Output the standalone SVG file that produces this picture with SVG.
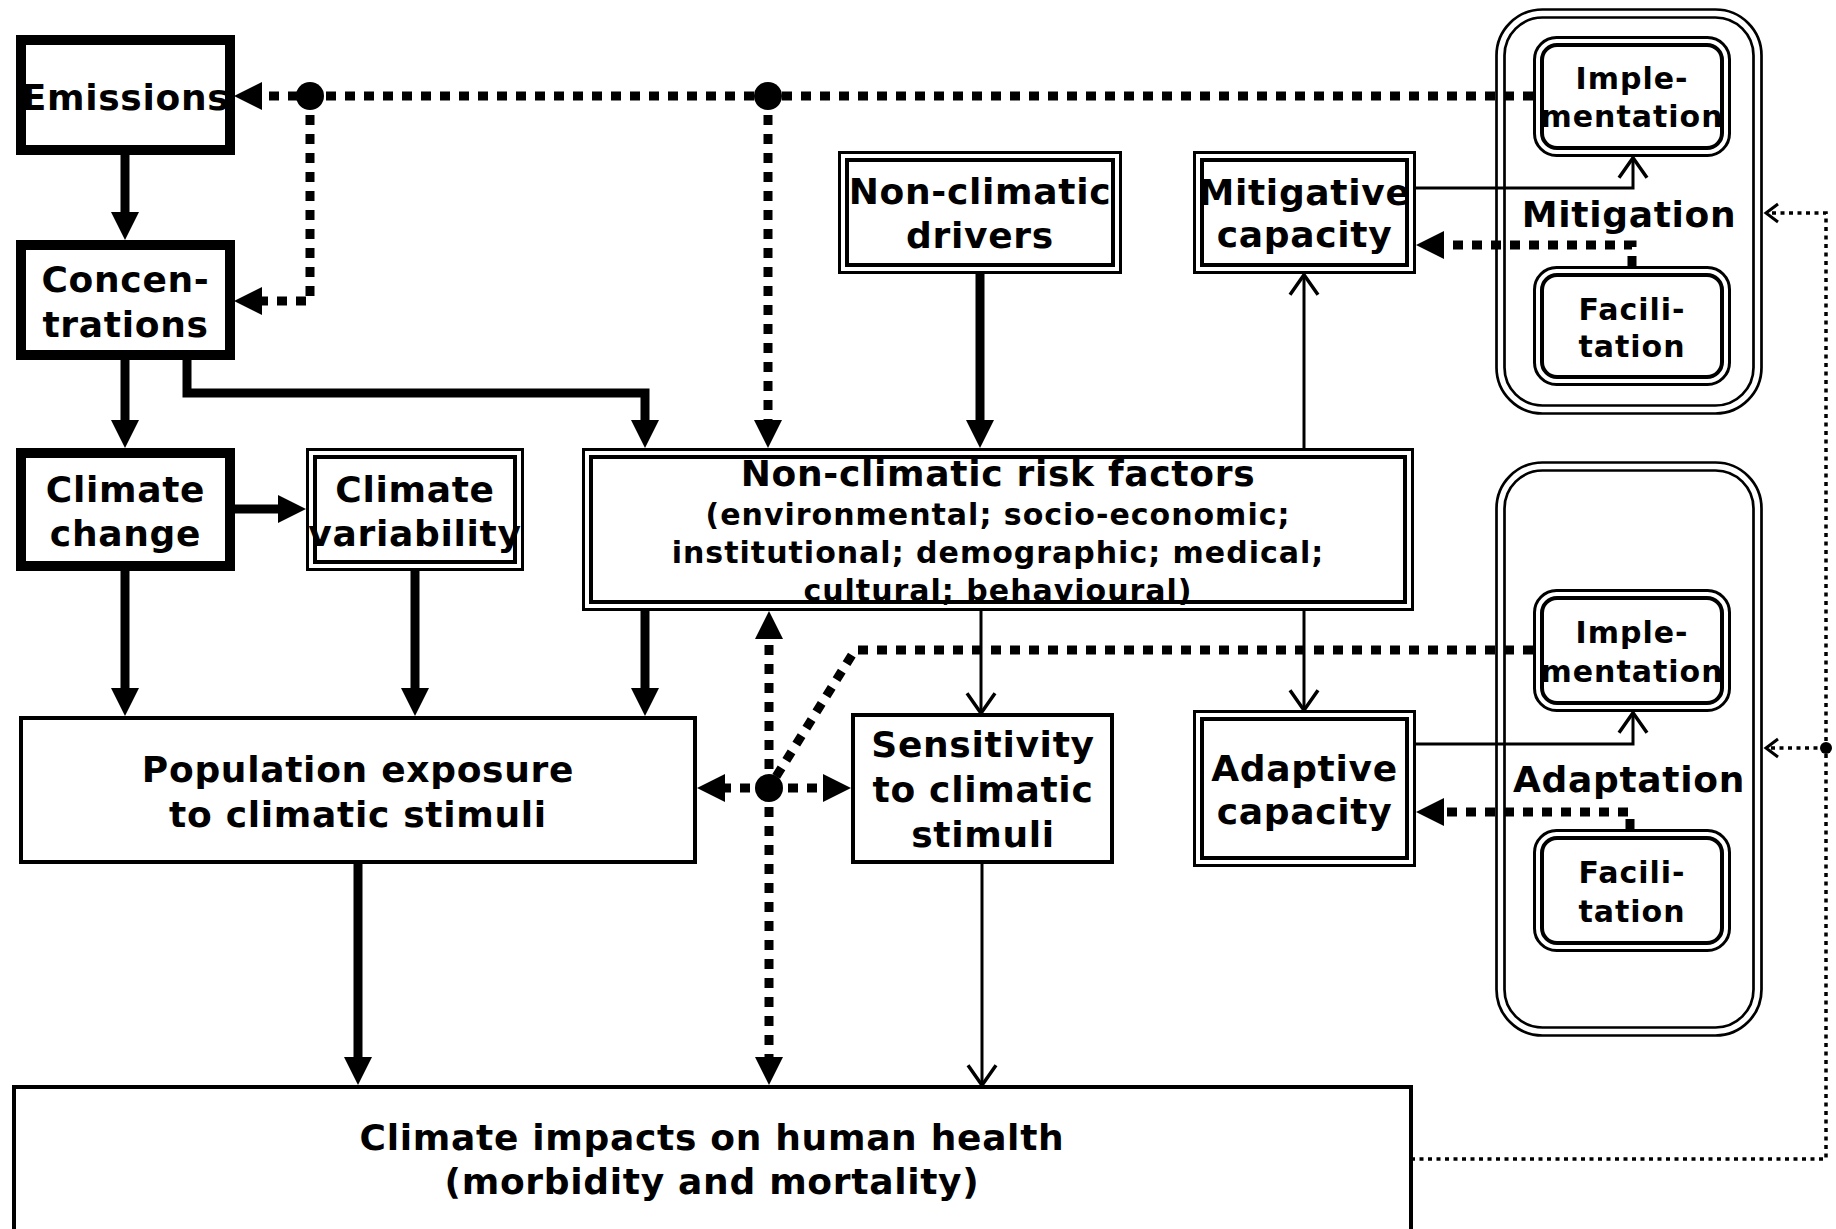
<svg xmlns="http://www.w3.org/2000/svg" width="1836" height="1229" viewBox="0 0 1836 1229">
  <defs>
    <style>
      .thick { fill: #fff; stroke: #000; stroke-width: 10; }
      .box { fill: #fff; stroke: #000; stroke-width: 4; }
      .dbl-o { fill: #fff; stroke: #000; stroke-width: 3; }
      .dbl-i { fill: none; stroke: #000; stroke-width: 4; }
      .ctr-o { fill: #fff; stroke: #000; stroke-width: 2.7; }
      .ctr-i { fill: none; stroke: #000; stroke-width: 2.7; }
      text { font-family: "DejaVu Sans", "Liberation Sans", sans-serif; font-weight: bold; fill: #000; text-anchor: middle; }
      .t36 { font-size: 36px; letter-spacing: 0.7px; }
      .t30 { font-size: 30px; letter-spacing: 1px; }
      .solid { fill: none; stroke: #000; stroke-width: 9; }
      .thin { fill: none; stroke: #000; stroke-width: 3; }
      .dots { fill: none; stroke: #000; stroke-width: 9; stroke-dasharray: 10 9; }
      .fine { fill: none; stroke: #000; stroke-width: 3.5; stroke-dasharray: 4 4.5; }
    </style>
    <marker id="fill-arrow" markerUnits="userSpaceOnUse" markerWidth="28" markerHeight="28" viewBox="0 0 28 28" refX="0" refY="14" orient="auto" overflow="visible">
      <path d="M0,0 L28,14 L0,28 z" fill="#000"/>
    </marker>
    <marker id="open-arrow" markerUnits="userSpaceOnUse" markerWidth="24" markerHeight="28" viewBox="0 0 20 24" refX="16" refY="12" orient="auto" overflow="visible">
      <path d="M0,0 L17,12 L0,24" fill="none" stroke="#000" stroke-width="3"/>
    </marker>
    <marker id="small-arrow" markerUnits="userSpaceOnUse" markerWidth="16" markerHeight="18" viewBox="0 0 14 18" refX="12" refY="9" orient="auto" overflow="visible">
      <path d="M0,0 L12,9 L0,18" fill="none" stroke="#000" stroke-width="3"/>
    </marker>
  </defs>

  <rect width="1836" height="1229" fill="#fff"/>

  <!-- response containers -->
  <g id="mitigation">
    <rect class="ctr-o" x="1496.5" y="9.5" width="265" height="404" rx="46"/>
    <rect class="ctr-i" x="1504.5" y="17.5" width="249" height="388" rx="38"/>
    <text class="t36" x="1629" y="227">Mitigation</text>
  </g>
  <g id="adaptation">
    <rect class="ctr-o" x="1496.5" y="462.5" width="265" height="573" rx="46"/>
    <rect class="ctr-i" x="1504.5" y="470.5" width="249" height="557" rx="38"/>
    <text class="t36" x="1629" y="792">Adaptation</text>
  </g>

  <!-- connectors -->
  <g id="connectors">
    <!-- solid causal chain -->
    <path class="solid" d="M125,155 V212" marker-end="url(#fill-arrow)"/>
    <path class="solid" d="M125,360 V420" marker-end="url(#fill-arrow)"/>
    <path class="solid" d="M187,360 V393 H645 V420" marker-end="url(#fill-arrow)"/>
    <path class="solid" d="M235,509 H278" marker-end="url(#fill-arrow)"/>
    <path class="solid" d="M125,571 V688" marker-end="url(#fill-arrow)"/>
    <path class="solid" d="M415,571 V688" marker-end="url(#fill-arrow)"/>
    <path class="solid" d="M645,611 V688" marker-end="url(#fill-arrow)"/>
    <path class="solid" d="M980,274 V420" marker-end="url(#fill-arrow)"/>
    <path class="solid" d="M358,864 V1057" marker-end="url(#fill-arrow)"/>

    <!-- thin links -->
    <path class="thin" d="M1304,448 V276" marker-end="url(#open-arrow)"/>
    <path class="thin" d="M1304,611 V709" marker-end="url(#open-arrow)"/>
    <path class="thin" d="M981,611 V712" marker-end="url(#open-arrow)"/>
    <path class="thin" d="M982,864 V1084" marker-end="url(#open-arrow)"/>
    <path class="thin" d="M1416,188 H1633 V159" marker-end="url(#open-arrow)"/>
    <path class="thin" d="M1416,744 H1633 V714" marker-end="url(#open-arrow)"/>

    <!-- implementation and facilitation effects -->
    <path class="dots" d="M1533,96 H262" marker-end="url(#fill-arrow)"/>
    <path class="dots" d="M310,96 V301 H262" marker-end="url(#fill-arrow)"/>
    <path class="dots" d="M768,96 V420" marker-end="url(#fill-arrow)"/>
    <path class="dots" d="M769,788 V639" marker-end="url(#fill-arrow)"/>
    <path class="dots" d="M769,788 V1057" marker-end="url(#fill-arrow)"/>
    <path class="dots" d="M769,788 H725" marker-end="url(#fill-arrow)"/>
    <path class="dots" d="M769,788 H823" marker-end="url(#fill-arrow)"/>
    <path class="dots" d="M1533,650 H855 L769,788"/>
    <path class="dots" d="M1632,266 V245 H1444" marker-end="url(#fill-arrow)"/>
    <path class="dots" d="M1630,829 V812 H1444" marker-end="url(#fill-arrow)"/>

    <!-- feedback from impacts -->
    <path class="fine" d="M1411,1159 H1826 V213 H1766" marker-end="url(#small-arrow)"/>
    <path class="fine" d="M1826,748 H1766" marker-end="url(#small-arrow)"/>

    <!-- junctions -->
    <circle cx="310" cy="96" r="14"/>
    <circle cx="768" cy="96" r="14"/>
    <circle cx="769" cy="788" r="14"/>
    <circle cx="1826" cy="748" r="6"/>
  </g>

  <!-- nodes -->
  <g id="emissions">
    <rect class="thick" x="21" y="40" width="209" height="110"/>
    <text class="t36" x="125.5" y="110">Emissions</text>
  </g>
  <g id="concentrations">
    <rect class="thick" x="21" y="245" width="209" height="110"/>
    <text class="t36" x="125.5" y="292">Concen-</text>
    <text class="t36" x="125.5" y="337">trations</text>
  </g>
  <g id="climate-change">
    <rect class="thick" x="21" y="453" width="209" height="113"/>
    <text class="t36" x="125.5" y="502">Climate</text>
    <text class="t36" x="125.5" y="546">change</text>
  </g>
  <g id="climate-variability">
    <rect class="dbl-o" x="307.5" y="449.5" width="215" height="120"/>
    <rect class="dbl-i" x="315" y="457" width="200" height="105"/>
    <text class="t36" x="415" y="502">Climate</text>
    <text class="t36" x="415" y="546">variability</text>
  </g>
  <g id="non-climatic-drivers">
    <rect class="dbl-o" x="839.5" y="152.5" width="281" height="120"/>
    <rect class="dbl-i" x="847" y="160" width="266" height="105"/>
    <text class="t36" x="980" y="204">Non-climatic</text>
    <text class="t36" x="980" y="248">drivers</text>
  </g>
  <g id="mitigative-capacity">
    <rect class="dbl-o" x="1194.5" y="152.5" width="220" height="120"/>
    <rect class="dbl-i" x="1202" y="160" width="205" height="105"/>
    <text class="t36" x="1304.5" y="205">Mitigative</text>
    <text class="t36" x="1304.5" y="247">capacity</text>
  </g>
  <g id="non-climatic-risk-factors">
    <rect class="dbl-o" x="583.5" y="449.5" width="829" height="160"/>
    <rect class="dbl-i" x="591" y="457" width="814" height="145"/>
    <text class="t36" x="998" y="486">Non-climatic risk factors</text>
    <text class="t30" x="998" y="525">(environmental; socio-economic;</text>
    <text class="t30" x="998" y="563">institutional; demographic; medical;</text>
    <text class="t30" x="998" y="601">cultural; behavioural)</text>
  </g>
  <g id="population-exposure">
    <rect class="box" x="21" y="718" width="674" height="144"/>
    <text class="t36" x="358" y="782">Population exposure</text>
    <text class="t36" x="358" y="827">to climatic stimuli</text>
  </g>
  <g id="sensitivity">
    <rect class="box" x="853" y="715" width="259" height="147"/>
    <text class="t36" x="983" y="757">Sensitivity</text>
    <text class="t36" x="983" y="802">to climatic</text>
    <text class="t36" x="983" y="847">stimuli</text>
  </g>
  <g id="adaptive-capacity">
    <rect class="dbl-o" x="1194.5" y="711.5" width="220" height="154"/>
    <rect class="dbl-i" x="1202" y="719" width="205" height="139"/>
    <text class="t36" x="1304.5" y="781">Adaptive</text>
    <text class="t36" x="1304.5" y="824">capacity</text>
  </g>
  <g id="climate-impacts">
    <rect class="box" x="14" y="1087" width="1397" height="200" stroke-width="4.5"/>
    <text class="t36" x="712" y="1150">Climate impacts on human health</text>
    <text class="t36" x="712" y="1194">(morbidity and mortality)</text>
  </g>
  <g id="mitigation-implementation">
    <rect class="dbl-o" x="1534.5" y="37.5" width="195" height="118" rx="22"/>
    <rect class="dbl-i" x="1542" y="45" width="180" height="103" rx="15"/>
    <text class="t30" x="1632" y="89">Imple-</text>
    <text class="t30" x="1632" y="127">mentation</text>
  </g>
  <g id="mitigation-facilitation">
    <rect class="dbl-o" x="1534.5" y="267.5" width="195" height="117" rx="22"/>
    <rect class="dbl-i" x="1542" y="275" width="180" height="102" rx="15"/>
    <text class="t30" x="1632" y="320">Facili-</text>
    <text class="t30" x="1632" y="357">tation</text>
  </g>
  <g id="adaptation-implementation">
    <rect class="dbl-o" x="1534.5" y="590.5" width="195" height="120" rx="22"/>
    <rect class="dbl-i" x="1542" y="598" width="180" height="105" rx="15"/>
    <text class="t30" x="1632" y="643">Imple-</text>
    <text class="t30" x="1632" y="682">mentation</text>
  </g>
  <g id="adaptation-facilitation">
    <rect class="dbl-o" x="1534.5" y="830.5" width="195" height="120" rx="22"/>
    <rect class="dbl-i" x="1542" y="838" width="180" height="105" rx="15"/>
    <text class="t30" x="1632" y="883">Facili-</text>
    <text class="t30" x="1632" y="922">tation</text>
  </g>
</svg>
